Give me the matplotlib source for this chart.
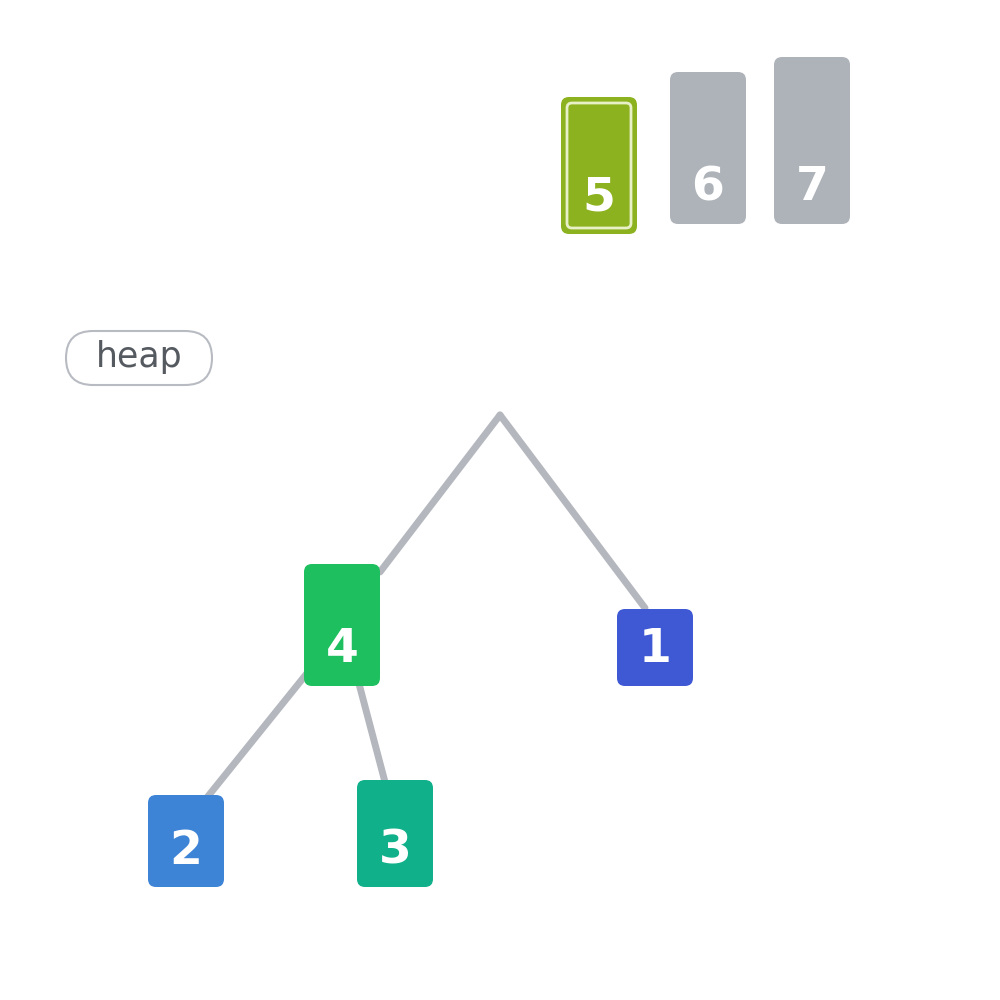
import matplotlib.pyplot as plt
from matplotlib.patches import FancyBboxPatch

# sorted part (top row) and heap tree
sorted_vals = [5, 6, 7]
sorted_colors = ['#8db21f', '#aeb3b9', '#aeb3b9']
tree_vals = [4, 1, 2, 3]
tree_colors = ['#1ebf5f', '#3f58d4', '#3d83d6', '#10b08b']

def box_h(v):
    return 62 + 15 * v

fig = plt.figure(figsize=(10, 10), dpi=100)
ax = fig.add_axes([0, 0, 1, 1])
ax.set_xlim(0, 1000)
ax.set_ylim(1000, 0)
ax.axis('off')

# edges
edge = dict(color='#b4b8be', lw=5, solid_capstyle='round', zorder=1)
ax.plot([500, 380], [415, 572], **edge)
ax.plot([500, 645], [415, 608], **edge)
ax.plot([308, 205], [672, 800], **edge)
ax.plot([358, 385], [680, 782], **edge)

def node(cx, bottom, v, color, w=76, outline=False):
    h = box_h(v)
    ax.add_patch(FancyBboxPatch((cx - w / 2, bottom - h), w, h,
                                boxstyle='round,pad=0,rounding_size=8',
                                fc=color, ec='none', zorder=2))
    if outline:
        ax.add_patch(FancyBboxPatch((cx - w / 2 + 6, bottom - h + 6), w - 12, h - 12,
                                    boxstyle='round,pad=0,rounding_size=5',
                                    fc='none', ec='#e8f0c8', lw=2, zorder=3))
    ax.text(cx, bottom - 36, str(v), ha='center', va='center', color='white',
            fontsize=34, fontweight='bold', zorder=4)

for i, (v, c) in enumerate(zip(sorted_vals, sorted_colors)):
    cx = [599, 708, 812][i]
    bottom = [234, 224, 224][i]
    node(cx, bottom, v, c, outline=(i == 0))

tree_pos = [(342, 686), (655, 686), (186, 887), (395, 887)]
for (cx, b), v, c in zip(tree_pos, tree_vals, tree_colors):
    node(cx, b, v, c)

ax.add_patch(FancyBboxPatch((66, 331), 146, 54, boxstyle='round,pad=0,rounding_size=27',
                            fc='white', ec='#b8bcc2', lw=1.5))
ax.text(139, 357, 'heap', ha='center', va='center', fontsize=25, color='#555a60')

fig.savefig('out.png')
